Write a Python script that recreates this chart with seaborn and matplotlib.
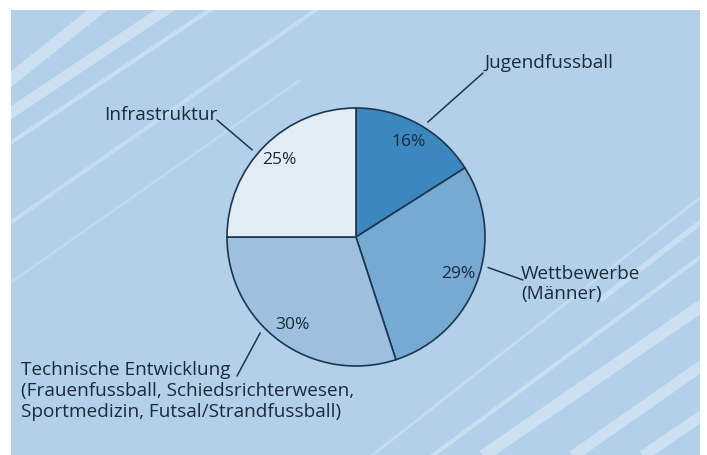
import numpy as np
import matplotlib.pyplot as plt
import seaborn as sns

# data
labels = ["Jugendfussball", "Wettbewerbe\n(Männer)",
          "Technische Entwicklung\n(Frauenfussball, Schiedsrichterwesen,\nSportmedizin, Futsal/Strandfussball)",
          "Infrastruktur"]
shares = [16, 29, 30, 25]
colors = ["#3d87bf", "#76aad3", "#9cc0de", "#e2ecf5"]

sns.set_style("white")
plt.rcParams['font.family'] = ['Open Sans', 'DejaVu Sans']

W, H = 707, 455
fig = plt.figure(figsize=(W / 100, H / 100), dpi=100)
fig.patch.set_facecolor("white")

# background panel with stripes
bg = fig.add_axes([11 / W, 0, (700 - 11) / W, (H - 10) / H])
bg.set_facecolor("#b2d0ea")
bg.set_xlim(11, 700)
bg.set_ylim(H, 10)
bg.set_xticks([])
bg.set_yticks([])
for s in bg.spines.values():
    s.set_visible(False)
stripes = [((0, 88), (110, 0), 9, 0.35), ((0, 120), (180, 0), 8, 0.35),
           ((0, 150), (240, -10), 3, 0.3), ((0, 230), (330, 0), 3, 0.25),
           ((0, 290), (300, 80), 2, 0.2),
           ((470, 465), (710, 300), 9, 0.35), ((560, 465), (710, 360), 8, 0.35),
           ((630, 465), (710, 410), 8, 0.35), ((420, 465), (710, 250), 3, 0.3),
           ((600, 300), (710, 215), 4, 0.3), ((360, 465), (710, 190), 2, 0.25)]
for (x0, y0), (x1, y1), lw, a in stripes:
    bg.plot([x0, x1], [y0, y1], color="white", lw=lw, alpha=a, solid_capstyle="butt")

# pie
cx, cy, r = 356, H - 237, 129
ax = fig.add_axes([(cx - r) / W, (cy - r) / H, 2 * r / W, 2 * r / H])
ax.pie(shares, colors=colors, startangle=90, counterclock=False,
       autopct="%d%%", pctdistance=0.84,
       wedgeprops=dict(edgecolor="#1c3550", linewidth=1.2),
       textprops=dict(fontsize=12.5, color="#1c2a3a"))
ax.set_xlim(-1, 1)
ax.set_ylim(-1, 1)
ax.set_aspect("equal")
ax.axis("off")

# labels: text left/center in px from top-left, leader line from pie (angle) to end point
label_pos = [((485, 63), 58, (483, 73)),
             ((521, 284), -13, (523, 280)),
             ((21, 391), -135, (237, 376)),
             ((104, 115), 140, (217, 120))]
for lab, ((tx, ty), ang, (lx, ly)) in zip(labels, label_pos):
    fig.text(tx / W, 1 - ty / H, lab, ha="left", va="center", fontsize=13.7,
             color="#1c2a3a", linespacing=1.2)
    a = np.deg2rad(ang)
    ax.annotate("", xy=(1.05 * np.cos(a), 1.05 * np.sin(a)), xycoords="data",
                xytext=(lx, H - ly), textcoords="figure pixels",
                annotation_clip=False,
                arrowprops=dict(arrowstyle="-", color="#1c3550", lw=1.1,
                                shrinkA=0, shrinkB=0))

fig.savefig("out.png", dpi=100)
